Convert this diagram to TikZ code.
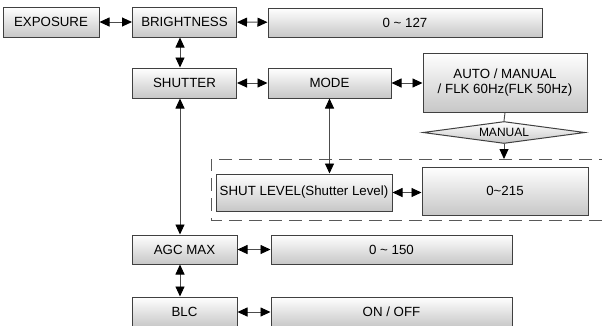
\documentclass[tikz,border=0pt]{standalone}
\usepackage{fontspec}
\setmainfont{Liberation Sans}
\usetikzlibrary{arrows.meta,shapes.geometric}

\begin{document}
\begin{tikzpicture}[x=1pt,y=-1pt,
        menu/.style={draw=black!75,line width=1pt,top color=white,bottom color=black!22,inner sep=0pt,
            font=\fontsize{13.3}{15.5}\selectfont},
        both/.style={line width=0.9pt,black!70,{Triangle[length=10pt,width=9pt,color=black]}-{Triangle[length=10pt,width=9pt,color=black]}},
        down/.style={line width=0.9pt,black!70,-{Triangle[length=10pt,width=9pt,color=black]}}]
        \useasboundingbox (0,0) rectangle (602,325);
        \coordinate (spine) at (180,0);

        % menu boxes
        \node[menu,minimum width=96pt,minimum height=30pt] (expo) at (51,22) {EXPOSURE};
        \node[menu,minimum width=104pt,minimum height=30pt] (bright) at (184.5,22) {BRIGHTNESS};
        \node[menu,minimum width=274pt,minimum height=29pt] (bvalue) at (405,22.5) {0 \textasciitilde{} 127};
        \node[menu,minimum width=104pt,minimum height=30pt] (shutter) at (184.5,83) {SHUTTER};
        \node[menu,minimum width=123pt,minimum height=30pt] (mode) at (329.5,83) {MODE};
        \node[menu,minimum width=164pt,minimum height=59pt,align=center] (mvalue) at (505,82.5) {AUTO / MANUAL\\/ FLK 60Hz(FLK 50Hz)};
        \node[menu,diamond,aspect=7.4,minimum width=162pt,minimum height=22pt,
            font=\fontsize{12}{13}\selectfont] (manual) at (504,132.5) {MANUAL};
        \node[menu,minimum width=176pt,minimum height=37pt] (level) at (304,192.5) {SHUT LEVEL(Shutter Level)};
        \node[menu,minimum width=166pt,minimum height=48pt] (lvalue) at (505,191) {0\textasciitilde215};
        \node[menu,minimum width=105pt,minimum height=29pt] (agc) at (184.5,249.5) {AGC MAX};
        \node[menu,minimum width=241pt,minimum height=29pt] (avalue) at (391.5,249.5) {0 \textasciitilde{} 150};
        \node[menu,minimum width=105pt,minimum height=30pt] (blc) at (184.5,312) {BLC};
        \node[menu,minimum width=241pt,minimum height=30pt] (onoff) at (391.5,312) {ON / OFF};

        % manual shutter frame
        \coordinate (zoneNW) at (211,159);
        \coordinate (zoneSW) at (211,220);
        \draw[dashed,dash pattern=on 13pt off 7pt,line width=0.9pt,black!65] (612,159) -- (zoneNW) -- (zoneSW) -- (612,220);

        % links
        \draw[both] (expo) -- (bright);
        \draw[both] (bright) -- (bvalue);
        \draw[both] (bright.south -| spine) -- (shutter.north -| spine);
        \draw[both] (shutter) -- (mode);
        \draw[both] (mode) -- (mvalue.west |- mode);
        \draw[line width=0.9pt,black!70] (mvalue.south) -- (manual.north);
        \draw[down] (manual.south) -- (manual.south |- zoneNW);
        \draw[both] (mode.south) -- (mode.south |- level.north);
        \draw[both] (level) -- (lvalue.west |- level);
        \draw[both] (shutter.south -| spine) -- (agc.north -| spine);
        \draw[both] (agc) -- (avalue);
        \draw[both] (agc.south -| spine) -- (blc.north -| spine);
        \draw[both] (blc) -- (onoff);
\end{tikzpicture}
\end{document}
